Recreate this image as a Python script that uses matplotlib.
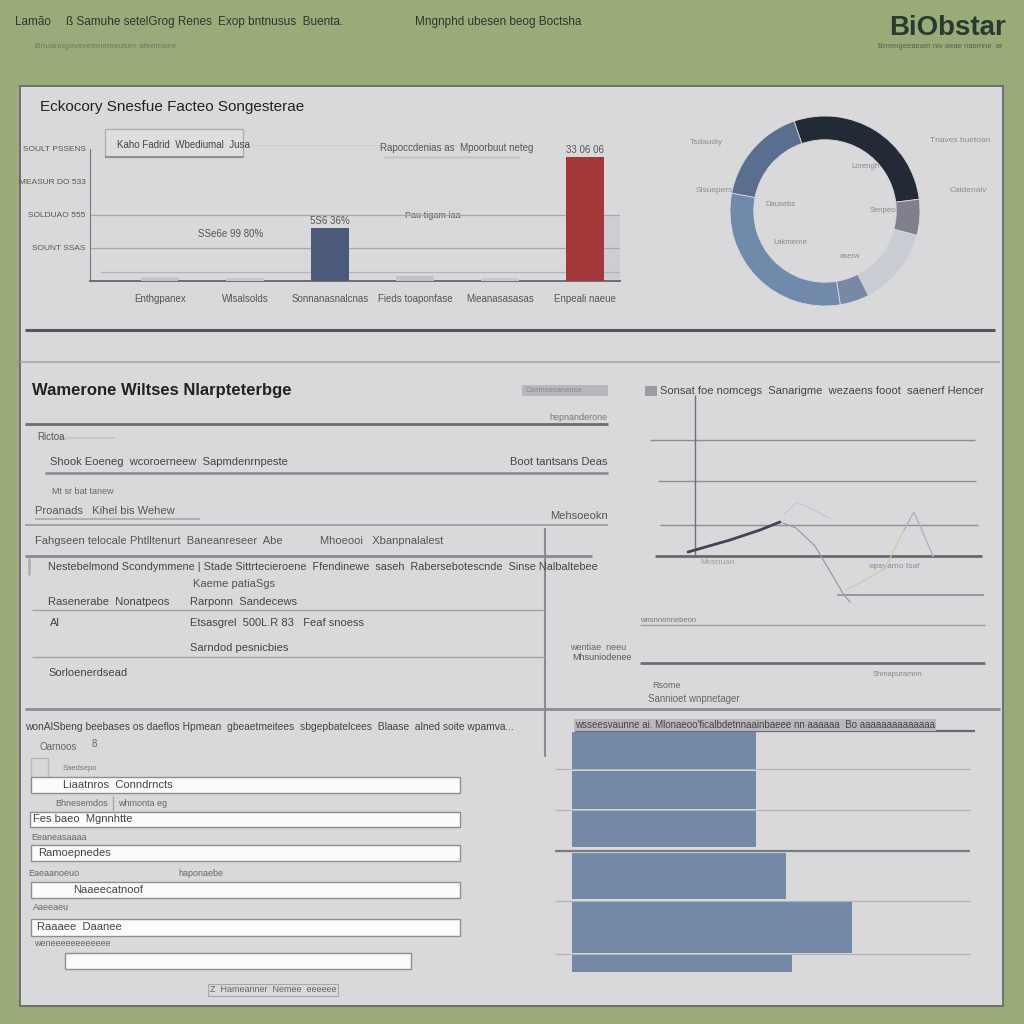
import matplotlib
matplotlib.use("Agg")
import matplotlib.pyplot as plt
from matplotlib.patches import Rectangle

plt.rcParams["font.family"] = ["Liberation Sans Narrow", "Liberation Sans", "DejaVu Sans"]

W, H = 1024, 1024

# ---- data -------------------------------------------------------------
bar_cats = ["Enthgpanex", "Wlsalsolds", "Sonnanasnalcnas", "Fieds toaponfase", "Mieanasasasas", "Enpeali naeue"]
bar_vals = [1.2, 0.8, 16.0, 1.5, 0.9, 37.5]
bar_colors = ["#c4c4c8", "#c8c8cc", "#4b5a78", "#c4c4c8", "#c8c8cc", "#a3383a"]
bar_value_labels = {2: "5S6 36%", 5: "33 06 06"}
bar_yticks = [10, 20, 30, 40]
bar_yticklabels = ["SOUNT SSAS", "SOLDUAO 555", "MEASUR DO 533", "SOULT PSSENS"]

donut_labels = ["Lorengh", "Senpeon", "aserw", "", "Lakmerne", "Dausebs"]
donut_vals = [28.3, 6.1, 13.3, 5.0, 30.6, 16.7]
donut_colors = ["#222a35", "#7f808b", "#caccd3", "#7689a7", "#7189ab", "#5a6e90"]

line_dark_x = [3.8, 8.0, 11.0, 13.0]
line_dark_y = [0.4, 1.6, 2.6, 3.4]
line_gray_x = [13.3, 14.6, 16.5, 18.4, 19.4, 20.0]
line_gray_y = [3.3, 2.8, 1.0, -2.2, -3.9, -4.6]
line_olive_x = [19.6, 21.2, 23.5, 25.4, 26.4, 28.3]
line_olive_y = [-3.4, -2.6, -1.2, 2.6, 4.4, 0.0]
line_pale_x = [13.4, 14.6, 15.6, 18.0]
line_pale_y = [4.2, 5.3, 5.0, 3.8]

hbar_vals = [46, 46, 46, 53.5, 70, 55]

form_labels = ["Liaatnros  Conndrncts", "Fes baeo  Mgnnhtte", "Ramoepnedes",
               "Naaeecatnoof", "Raaaee  Daanee", ""]

# ---- layout helpers ---------------------------------------------------
fig = plt.figure(figsize=(10.24, 10.24), dpi=100)
fig.patch.set_facecolor("#9aab7a")

bg = fig.add_axes([0, 0, 1, 1])
bg.set_xlim(0, W)
bg.set_ylim(H, 0)
bg.axis("off")


def px_axes(x0, y0, x1, y1):
    ax = fig.add_axes([x0 / W, 1 - y1 / H, (x1 - x0) / W, (y1 - y0) / H])
    ax.patch.set_alpha(0)
    return ax


def txt(x, y, s, size=8, color="#444444", ha="left", weight="normal", **kw):
    bg.text(x, y, s, fontsize=size, color=color, ha=ha, va="center", fontweight=weight, **kw)


def hl(y, x0, x1, color="#9a9a9e", lw=1.0):
    bg.plot([x0, x1], [y, y], color=color, lw=lw, solid_capstyle="butt")


def vl(x, y0, y1, color="#9a9a9e", lw=1.0):
    bg.plot([x, x], [y0, y1], color=color, lw=lw, solid_capstyle="butt")


def box(x0, y0, x1, y1, face="white", edge="#8e8e92", lw=1.0):
    bg.add_patch(Rectangle((x0, y0), x1 - x0, y1 - y0, facecolor=face, edgecolor=edge, lw=lw))


# ---- page chrome ------------------------------------------------------
box(20, 86, 1003, 1006, face="#d9d9db", edge="#707074", lw=1.4)

txt(15, 22, "Lamão", 8.5, "#333333")
txt(66, 22, "ß Samuhe setelGrog Renes", 8.5, "#333333")
txt(218, 22, "Exop bntnusus  Buenta.", 8.5, "#333333")
txt(415, 22, "Mngnphd ubesen beog Boctsha", 8.5, "#333333")
txt(35, 47, "Bnuanogeveveeeiemeusen ateemaee", 6, "#6f7a5c")
txt(1006, 28, "BiObstar", 20, "#2a3a2e", ha="right", weight="bold", family=["Liberation Sans", "DejaVu Sans"])
txt(1003, 47, "Brnengeeaeaer niv aeae naemne  ar", 5.5, "#56604a", ha="right")

# ---- top panel: column chart -----------------------------------------
txt(40, 107, "Eckocory Snesfue Facteo Songesterae", 11, "#222222")
box(105, 129, 243, 157, face="#dedee0", edge="#b0b0b4")
hl(157, 105, 243, "#8e8e92", 1.4)
txt(117, 145, "Kaho Fadrid  Wbediumal  Jusa", 7, "#444444")
hl(145, 243, 500, "#cfcfd2", 0.8)
txt(380, 148, "Rapoccdenias as  Mpoorbuut neteg", 7, "#555555")
hl(157, 383, 520, "#c9c9cc", 2.0)
txt(405, 215, "Pau tigam iaa", 6.5, "#555555")
txt(198, 234, "SSe6e 99 80%", 7, "#555555")
bg.add_patch(Rectangle((604, 215), 16, 66, facecolor="#c8c8cc", edgecolor="none", alpha=0.6))

ax_bar = px_axes(90, 135, 620, 281)
xs = range(len(bar_cats))
ax_bar.bar(xs, bar_vals, width=0.44, color=bar_colors, zorder=3)
for i, lab in bar_value_labels.items():
    ax_bar.text(i, bar_vals[i] + 0.6, lab, ha="center", va="bottom", fontsize=7, color="#555555")
for yv in bar_yticks[:2]:
    ax_bar.axhline(yv, color="#a8a8ac", lw=0.9, zorder=1)
ax_bar.axhline(2.7, xmin=0.02, xmax=1.0, color="#b4b4b8", lw=0.9, zorder=1)
ax_bar.set_xlim(-0.82, 5.41)
ax_bar.set_ylim(0, 44.2)
ax_bar.set_xticks(list(xs))
ax_bar.set_xticklabels(bar_cats, fontsize=7, color="#555555")
ax_bar.set_yticks(bar_yticks)
ax_bar.set_yticklabels(bar_yticklabels, fontsize=6, color="#555555")
ax_bar.tick_params(axis="x", length=0, pad=9)
ax_bar.tick_params(axis="y", length=0, pad=3)
for side in ["top", "right"]:
    ax_bar.spines[side].set_visible(False)
ax_bar.spines["left"].set_color("#7a7a7e")
ax_bar.spines["bottom"].set_color("#6e6e72")
ax_bar.spines["left"].set_bounds(0, 40)
ax_bar.spines["bottom"].set_linewidth(1.4)

# ---- top panel: donut ---------------------------------------------------
ax_pie = px_axes(730, 116, 920, 306)
ax_pie.pie(donut_vals, colors=donut_colors, startangle=109, counterclock=False,
           radius=1.0, wedgeprops=dict(width=0.25, edgecolor="#d9d9db", linewidth=0.6))
ax_pie.set_xlim(-1, 1)
ax_pie.set_ylim(-1, 1)
ax_pie.set_aspect("equal")
ax_pie.axis("off")
for (x, y, s) in [(865, 166, donut_labels[0]), (885, 210, donut_labels[1]), (850, 257, donut_labels[2]),
                  (790, 242, donut_labels[4]), (780, 205, donut_labels[5])]:
    txt(x, y, s, 5.5, "#8a8a8e", ha="center")
txt(690, 142, "Tsdaudiy", 6, "#8e8e92")
txt(930, 140, "Tnaves buetoan", 6, "#8e8e92")
txt(696, 191, "Slsuepers", 6, "#8e8e92")
txt(950, 191, "Caldenaiv", 6, "#8e8e92")

hl(330, 25, 995, "#55575a", 2.2)
hl(362, 20, 1000, "#a8a8ac", 1.2)

# ---- middle-left table ----------------------------------------------
txt(32, 390, "Wamerone Wiltses Nlarpteterbge", 12, "#222222", weight="bold")
box(522, 385, 608, 396, face="#b8b8bc", edge="none", lw=0)
txt(526, 390.5, "Cseinsecanense", 5.5, "#8a8a8e")
txt(608, 418, "hepnanderone", 6.5, "#777777", ha="right")
hl(424, 25, 608, "#6d6d70", 2.0)
txt(37, 437, "Rictoa", 7, "#555555")
hl(438, 60, 115, "#c8c8cb", 1.5)
txt(50, 462, "Shook Eoeneg  wcoroerneew  Sapmdenrnpeste", 8, "#444444")
txt(608, 462, "Boot tantsans Deas", 8, "#444444", ha="right")
hl(473, 45, 608, "#8a8a8e", 1.8)
txt(52, 491, "Mt sr bat tanew", 6.5, "#666666")
txt(35, 511, "Proanads   Kihel bis Wehew", 8, "#555555")
hl(519, 35, 200, "#a8a8ac", 1.2)
txt(608, 516, "Mehsoeokn", 8, "#555555", ha="right")
hl(525, 25, 608, "#9a9a9e", 1.2)
txt(35, 541, "Fahgseen telocale", 8, "#555555")
txt(130, 541, "Phtlltenurt  Baneanreseer  Abe", 8, "#555555")
txt(320, 541, "Mhoeooi   Xbanpnalalest", 8, "#555555")
vl(545, 528, 757, "#8c8c90", 1.5)
hl(556, 25, 592, "#8a8a8e", 2.0)
vl(29, 558, 575, "#b0b0b4", 2.0)
txt(48, 567, "Nestebelmond Scondymmene | Stade Sittrtecieroene  Ffendinewe  saseh  Rabersebotescnde  Sinse Nalbaltebee",
    7.8, "#444444")
txt(193, 584, "Kaeme patiaSgs", 8, "#555555")
txt(48, 602, "Rasenerabe  Nonatpeos", 8, "#444444")
txt(190, 602, "Rarponn  Sandecews", 8, "#444444")
hl(610, 32, 545, "#a3a3a7", 1.0)
txt(50, 623, "Al", 8, "#444444")
txt(190, 623, "Etsasgrel  500L.R 83   Feaf snoess", 8, "#444444")
txt(190, 648, "Sarndod pesnicbies", 8, "#444444")
hl(657, 32, 545, "#a3a3a7", 1.0)
txt(48, 673, "Sorloenerdsead", 8, "#444444")

# ---- middle-right line chart ------------------------------------------
box(645, 386, 657, 396, face="#9c9ca0", edge="none", lw=0)
txt(660, 391, "Sonsat foe nomcegs  Sanarigme  wezaens fooot  saenerf Hencer", 8, "#444444")

ax_line = px_axes(650, 395, 985, 610)
ax_line.set_xlim(0, 33.5)
ax_line.set_ylim(-5.4, 16.1)
ax_line.axis("off")
ax_line.hlines([11.6, 7.5, 3.1], [0, 0.8, 1.0], [32.5, 32.6, 32.8], color="#8e8e92", lw=1.0)
ax_line.hlines(0, 0.5, 33.2, color="#6a6a6e", lw=2.0)
ax_line.hlines(-3.9, 18.7, 33.4, color="#8e8e92", lw=1.2)
ax_line.vlines(4.5, 0, 16.1, color="#707074", lw=1.0)
ax_line.plot(line_pale_x, line_pale_y, color="#c4c8d0", lw=0.9)
ax_line.plot(line_gray_x, line_gray_y, color="#9a9ca4", lw=0.9)
ax_line.plot(line_olive_x, line_olive_y, color="#c9cfa5", lw=0.9)
ax_line.plot(line_olive_x[3:], line_olive_y[3:], color="#aab0c4", lw=0.8)
ax_line.plot(line_dark_x, line_dark_y, color="#3e4656", lw=2.0, solid_capstyle="round")
txt(700, 562, "Mosnuan", 6, "#9a9a9e")
txt(868, 566, "wpsyamo tsaf", 6, "#8a8a9a")

hl(625, 640, 985, "#9e9ea2", 1.0)
txt(640, 620, "wnsnnonnebeon", 5.5, "#777777")
hl(663, 640, 985, "#707074", 2.0)
txt(570, 647, "wentiae  neeu", 6.5, "#666666")
txt(572, 658, "Mhsuniodenee", 6.5, "#555555")
txt(922, 675, "Shmapuramnn", 5.5, "#888888", ha="right")
txt(652, 685, "Rsome", 6.5, "#666666")
txt(648, 699, "Sannioet wnpnetager", 7, "#666666")

hl(709, 25, 1000, "#8c8c90", 2.0)

# ---- bottom-left form -----------------------------------------------
txt(25, 727, "wonAlSbeng beebases os daeflos Hpmean  gbeaetmeitees  sbgepbatelcees  Blaase  alned soite wpamva...",
    7.4, "#444444")
txt(40, 747, "Oarnoos", 7, "#666666")
txt(92, 744, "8", 7, "#666666")
box(31, 758, 48, 790, face="#d9d9db", edge="#b8b8bc")
txt(63, 769, "Saedsepo", 5.5, "#777777")
form_rows = [(31, 777, 460, 793, 63), (30, 812, 460, 827, 33), (31, 845, 460, 861, 38),
             (31, 882, 460, 898, 73), (31, 919, 460, 936, 37), (65, 953, 411, 969, 70)]
for (x0, y0, x1, y1, tx), lab in zip(form_rows, form_labels):
    box(x0, y0, x1, y1, face="#fbfbfb", edge="#8e8e92", lw=1.0)
    if lab:
        txt(tx, (y0 + y1) / 2, lab, 8, "#444444")
txt(55, 803, "Bhnesemdos", 6.5, "#666666")
vl(113, 796, 810, "#a8a8ac", 1.0)
txt(118, 803, "whmonta eg", 6.5, "#666666")
txt(31, 838, "Eeaneasaaaa", 6.5, "#666666")
txt(28, 873, "Eaeaanoeuo", 6.5, "#666666")
txt(178, 873, "haponaebe", 6.5, "#666666")
txt(33, 907, "Aaeeaeu", 6.5, "#666666")
txt(34, 943, "weneeeeeeeeeeee", 6.5, "#666666")
bg.text(273, 990, "Z  Hameanner  Nemee  eeeeee", fontsize=6.5, color="#666666", ha="center", va="center",
        bbox=dict(boxstyle="square,pad=0.2", facecolor="#d9d9db", edgecolor="#a8a8ac", lw=0.8))

# ---- bottom-right horizontal bars --------------------------------------
bg.text(575, 725, "wsseesvaunne ai. Mlonaeoo'ficalbdetnnaainbaeee nn aaaaaa  Bo aaaaaaaaaaaaaa",
        fontsize=7, color="#444444", ha="left", va="center",
        bbox=dict(boxstyle="square,pad=0.15", facecolor="#b8b8bc", edgecolor="none"))
hl(731, 575, 975, "#6a6a6e", 1.6)
for yg, col, lw in [(769, "#b4b4b8", 0.9), (810, "#b4b4b8", 0.9), (851, "#7a7a7e", 1.6),
                    (901, "#b4b4b8", 0.9), (954, "#b4b4b8", 0.9)]:
    hl(yg, 555, 970, col, lw)

hbar_rows = [(732, 769), (771, 809), (811, 847), (853, 899), (902, 953), (955, 972)]
ax_hbar = px_axes(572, 731, 972, 972)
ax_hbar.set_xlim(0, 100)
ax_hbar.set_ylim(241, 0)
ax_hbar.axis("off")
centers = [((a + b) / 2) - 731 for a, b in hbar_rows]
heights = [b - a for a, b in hbar_rows]
ax_hbar.barh(centers, hbar_vals, height=heights, color="#7489a8", edgecolor="none")

fig.savefig("out.png", dpi=100, facecolor=fig.get_facecolor())
